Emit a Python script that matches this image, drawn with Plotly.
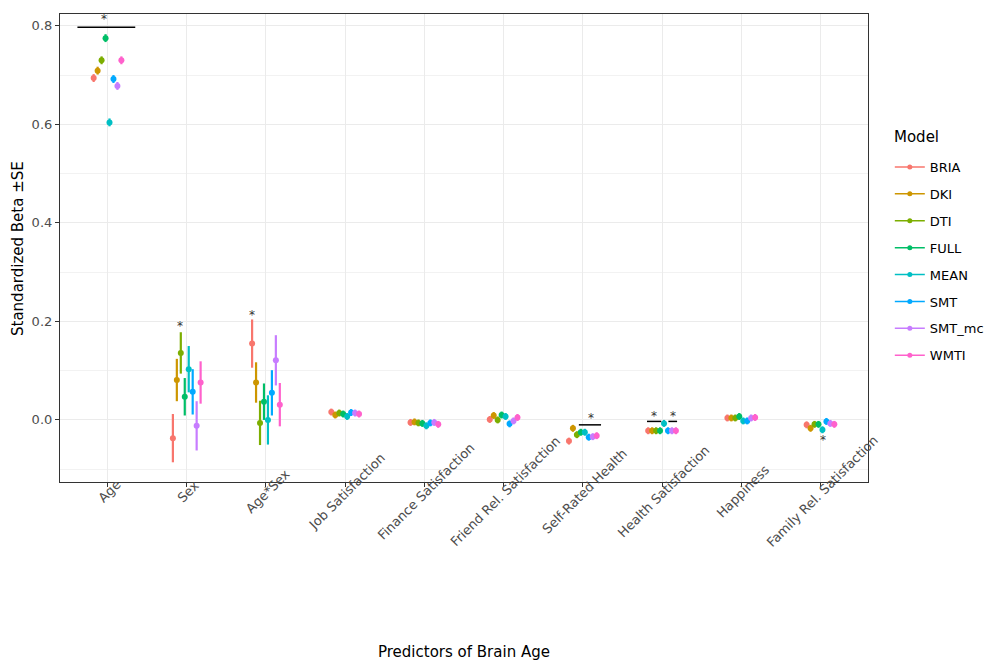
import plotly.graph_objects as go

models = ["BRIA", "DKI", "DTI", "FULL", "MEAN", "SMT", "SMT_mc", "WMTI"]
colors = ["#F8766D", "#CD9600", "#7CAE00", "#00BE67", "#00BFC4", "#00A9FF", "#C77CFF", "#FF61CC"]
predictors = ["Age", "Sex", "Age*Sex", "Job Satisfaction", "Finance Satisfaction",
              "Friend Rel. Satisfaction", "Self-Rated Health", "Health Satisfaction",
              "Happiness", "Family Rel. Satisfaction"]

beta_BRIA = [0.694, -0.037, 0.155, 0.016, -0.005, 0.001, -0.043, -0.022, 0.004, -0.010]
beta_DKI = [0.709, 0.081, 0.076, 0.010, -0.004, 0.009, -0.017, -0.022, 0.004, -0.017]
beta_DTI = [0.730, 0.136, -0.006, 0.014, -0.006, 0.000, -0.030, -0.022, 0.004, -0.009]
beta_FULL = [0.775, 0.047, 0.037, 0.012, -0.007, 0.010, -0.025, -0.022, 0.007, -0.009]
beta_MEAN = [0.604, 0.103, 0.000, 0.007, -0.012, 0.007, -0.025, -0.007, -0.002, -0.020]
beta_SMT = [0.692, 0.057, 0.055, 0.015, -0.006, -0.008, -0.035, -0.022, -0.002, -0.003]
beta_SMT_mc = [0.678, -0.012, 0.121, 0.014, -0.005, -0.002, -0.034, -0.022, 0.004, -0.007]
beta_WMTI = [0.730, 0.076, 0.031, 0.012, -0.009, 0.005, -0.032, -0.022, 0.005, -0.009]

se_BRIA = [0.008, 0.049, 0.049, 0.007, 0.007, 0.007, 0.007, 0.007, 0.007, 0.007]
se_DKI = [0.008, 0.043, 0.041, 0.007, 0.007, 0.007, 0.007, 0.007, 0.007, 0.007]
se_DTI = [0.008, 0.042, 0.045, 0.007, 0.007, 0.007, 0.007, 0.007, 0.007, 0.007]
se_FULL = [0.008, 0.038, 0.037, 0.007, 0.007, 0.007, 0.007, 0.007, 0.007, 0.007]
se_MEAN = [0.008, 0.047, 0.050, 0.007, 0.007, 0.007, 0.007, 0.007, 0.007, 0.007]
se_SMT = [0.008, 0.046, 0.046, 0.007, 0.007, 0.007, 0.007, 0.007, 0.007, 0.007]
se_SMT_mc = [0.008, 0.050, 0.051, 0.007, 0.007, 0.007, 0.007, 0.007, 0.007, 0.007]
se_WMTI = [0.008, 0.043, 0.044, 0.007, 0.007, 0.007, 0.007, 0.007, 0.007, 0.007]

betas = [beta_BRIA, beta_DKI, beta_DTI, beta_FULL, beta_MEAN, beta_SMT, beta_SMT_mc, beta_WMTI]
ses = [se_BRIA, se_DKI, se_DTI, se_FULL, se_MEAN, se_SMT, se_SMT_mc, se_WMTI]

# significance brackets: predictor index, start offset, end offset, y
bracket_cat = [0, 6, 7, 7]
bracket_x0 = [-0.38, -0.05, -0.19, 0.08]
bracket_x1 = [0.35, 0.23, -0.01, 0.19]
bracket_y = [0.797, -0.010, -0.003, -0.003]

# stars: predictor index, offset, y
star_cat = [0, 1, 2, 6, 7, 7, 9]
star_off = [-0.05, -0.09, -0.18, 0.10, -0.10, 0.14, 0.035]
star_y = [0.814, 0.190, 0.213, 0.003, 0.008, 0.008, -0.040]

dodge = 0.05

fig = go.Figure()
for j, m in enumerate(models):
    xs = [i + (j - 3.5) * dodge for i in range(len(predictors))]
    fig.add_trace(go.Scatter(
        x=xs, y=betas[j], mode="markers",
        marker=dict(color=colors[j], size=6),
        error_y=dict(type="data", array=ses[j], color=colors[j], thickness=2.2, width=0),
        showlegend=False, hoverinfo="skip"))
    fig.add_trace(go.Scatter(
        x=[None], y=[None], mode="lines+markers", name=m, legendgroup=m,
        line=dict(color=colors[j], width=1.5), marker=dict(color=colors[j], size=5)))

for c, a, b, y in zip(bracket_cat, bracket_x0, bracket_x1, bracket_y):
    fig.add_shape(type="line", x0=c + a, x1=c + b, y0=y, y1=y, xref="x", yref="y",
                  line=dict(color="black", width=1.5))

for c, o, y in zip(star_cat, star_off, star_y):
    fig.add_annotation(x=c + o, y=y, text="*", showarrow=False, xref="x", yref="y",
                       font=dict(size=12, color="#333333", family="DejaVu Sans"))

for i, p in enumerate(predictors):
    fig.add_annotation(x=i + 0.02, y=-0.02, xref="x", yref="paper", text=p, textangle=-45,
                       showarrow=False, xanchor="center", yanchor="middle",
                       font=dict(size=13, color="#4D4D4D", family="DejaVu Sans"))

fig.add_annotation(x=0.5, y=-0.363, xref="paper", yref="paper", text="Predictors of Brain Age",
                   showarrow=False, xanchor="center", yanchor="middle",
                   font=dict(size=15, color="black", family="DejaVu Sans"))
fig.add_annotation(x=-0.052, y=0.5, xref="paper", yref="paper", text="Standardized Beta \u00b1SE",
                   textangle=-90, showarrow=False, xanchor="center", yanchor="middle",
                   font=dict(size=15, color="black", family="DejaVu Sans"))
fig.add_annotation(x=1.03, y=(482 - 137) / 468, xref="paper", yref="paper", text="Model",
                   showarrow=False, xanchor="left", yanchor="middle",
                   font=dict(size=15, color="black", family="DejaVu Sans"))

fig.update_layout(
    width=985, height=662,
    margin=dict(l=60, r=117, t=14, b=180, autoexpand=False),
    paper_bgcolor="white", plot_bgcolor="white",
    font=dict(family="DejaVu Sans", color="#4D4D4D", size=13),
    xaxis=dict(range=[-0.6, 9.6], tickmode="array", tickvals=list(range(len(predictors))),
               showticklabels=False, ticks="outside", ticklen=4, tickcolor="#333333",
               showgrid=True, gridcolor="#EBEBEB", gridwidth=1.1, zeroline=False,
               showline=True, linecolor="#333333", linewidth=1.2, mirror=True),
    yaxis=dict(range=[-0.126, 0.824], tickmode="linear", tick0=0, dtick=0.2, tickformat=".1f",
               ticks="outside", ticklen=4, tickcolor="#333333",
               showgrid=True, gridcolor="#EBEBEB", gridwidth=1.1, zeroline=False,
               minor=dict(dtick=0.1, showgrid=True, gridcolor="#F2F2F2", gridwidth=0.8, ticks=""),
               showline=True, linecolor="#333333", linewidth=1.2, mirror=True,
               tickfont=dict(size=13, color="#4D4D4D")),
    legend=dict(x=1.027, y=(482 - 152) / 468, xanchor="left", yanchor="top",
                font=dict(size=13, color="black"), tracegroupgap=7,
                bgcolor="rgba(0,0,0,0)"),
)

fig.write_html("out.html")
